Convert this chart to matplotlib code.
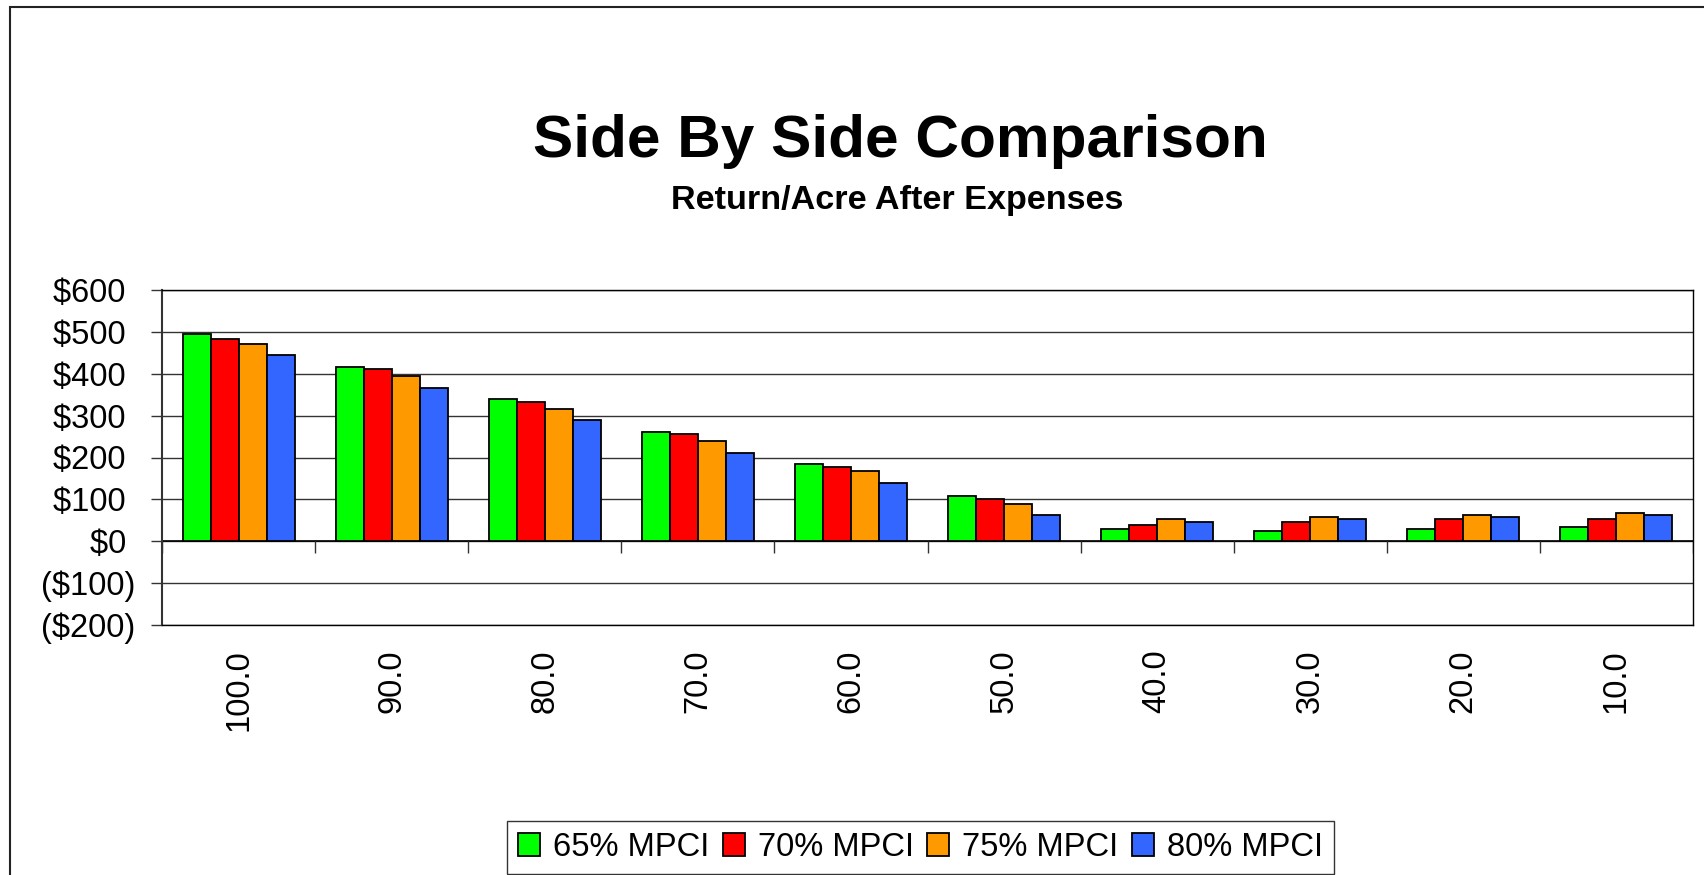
import matplotlib
matplotlib.use("Agg")
import matplotlib.pyplot as plt
from matplotlib.patches import Rectangle
import numpy as np

plt.rcParams['font.family'] = ['Liberation Sans', 'DejaVu Sans']

categories = ["100.0", "90.0", "80.0", "70.0", "60.0", "50.0", "40.0", "30.0", "20.0", "10.0"]
series_names = ["65% MPCI", "70% MPCI", "75% MPCI", "80% MPCI"]
s65 = [495, 417, 340, 262, 184, 107, 29, 24, 29, 35]
s70 = [483, 411, 333, 255, 178, 100, 40, 45, 52, 52]
s75 = [472, 394, 317, 239, 167, 89, 52, 57, 63, 68]
s80 = [444, 367, 289, 211, 140, 62, 45, 52, 57, 62]
colors = ["#00FF00", "#FF0000", "#FF9900", "#3366FF"]
yticks = [-200, -100, 0, 100, 200, 300, 400, 500, 600]

def money(v):
    return f"(${-v})" if v < 0 else f"${v} "

W, H = 1704, 875
fig = plt.figure(figsize=(W / 100, H / 100), dpi=100)

# outer chart frame
fig.patches.append(Rectangle((10 / W, -0.2), 1.2, 1 - 7 / H + 0.2,
                             transform=fig.transFigure, fill=False,
                             edgecolor="#222222", linewidth=1.5, zorder=0))

ax = fig.add_axes([162 / W, 1 - 625 / H, (1693 - 162) / W, (625 - 290) / H])

x = np.arange(len(categories))
bw = 0.183
for i, (vals, c, name) in enumerate(zip([s65, s70, s75, s80], colors, series_names)):
    ax.bar(x + (i - 1.5) * bw, vals, width=bw, color=c, edgecolor="black",
           linewidth=1.3, label=name, zorder=3)

ax.set_xlim(-0.5, len(categories) - 0.5)
ax.set_ylim(-200, 600)
ax.set_yticks(yticks)
ax.set_yticklabels([money(v) for v in yticks], fontsize=23.5)
ax.yaxis.grid(True, color="#333333", linewidth=1.0, zorder=1)
ax.set_axisbelow(True)
ax.tick_params(axis="y", direction="out", length=8.0, width=1, color="#333333", pad=11.5)

ax.set_xticks(x)
ax.set_xticklabels(categories, rotation=90, fontsize=23.5)
ax.tick_params(axis="x", length=0, pad=17.5)

# category axis at zero with tick marks between categories
ax.axhline(0, color="black", linewidth=1.2, zorder=2)
bounds = np.arange(len(categories) + 1) - 0.5
ax.vlines(bounds, -28, 0, color="#333333", linewidth=1.0, zorder=2)

for sp in ax.spines.values():
    sp.set_color("black")
    sp.set_linewidth(1.0)
ax.spines["left"].set_color("#333333")
ax.spines["left"].set_linewidth(1.5)

fig.text(900 / W, 1 - 157 / H, "Side By Side Comparison", ha="center", va="baseline",
         fontsize=43.5, fontweight="bold")
fig.text(897 / W, 1 - 209 / H, "Return/Acre After Expenses", ha="center", va="baseline",
         fontsize=24.6, fontweight="bold")

leg = fig.legend(loc="upper left", bbox_to_anchor=(507 / W, 1 - 821 / H),
                 bbox_transform=fig.transFigure, ncol=4, fontsize=23.6,
                 handlelength=0.675, handleheight=0.675, handletextpad=0.4,
                 columnspacing=0.4, borderpad=0.34, borderaxespad=0,
                 fancybox=False, shadow=False, frameon=True)
leg.get_frame().set_edgecolor("black")
leg.get_frame().set_linewidth(1.0)

fig.savefig("out.png", dpi=100)
